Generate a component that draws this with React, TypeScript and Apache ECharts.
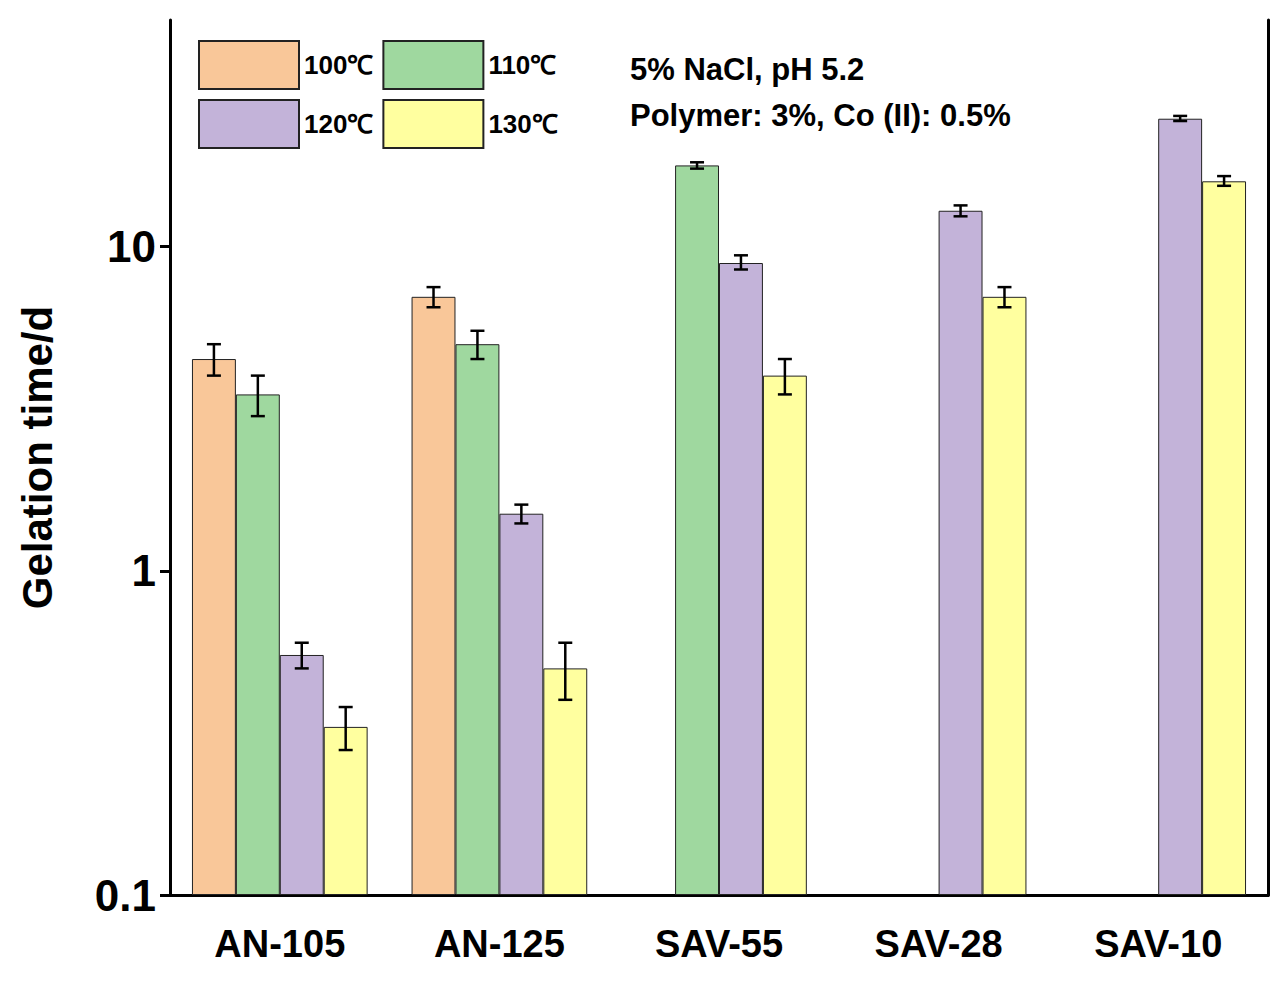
import React, { useEffect, useRef } from "react";
import * as echarts from "echarts";

const categories = ["AN-105", "AN-125", "SAV-55", "SAV-28", "SAV-10"];
const seriesNames = ["100℃", "110℃", "120℃", "130℃"];
const colors = ["#F9C799", "#9FD89F", "#C3B3D9", "#FFFF9F"];
const v100 = [4.5, 7.0, null, null, null];
const v110 = [3.5, 5.0, 17.8, null, null];
const v120 = [0.55, 1.5, 8.9, 12.9, 24.8];
const v130 = [0.33, 0.5, 4.0, 7.0, 15.9];
const lo100 = [4.0, 6.5, null, null, null];
const hi100 = [5.0, 7.5, null, null, null];
const lo110 = [3.0, 4.5, 17.4, null, null];
const hi110 = [4.0, 5.5, 18.2, null, null];
const lo120 = [0.5, 1.4, 8.5, 12.4, 24.4];
const hi120 = [0.6, 1.6, 9.4, 13.4, 25.3];
const lo130 = [0.28, 0.4, 3.5, 6.5, 15.4];
const hi130 = [0.38, 0.6, 4.5, 7.5, 16.5];
const yMin = 0.1;
const yMax = 50;

const values = [v100, v110, v120, v130];
const lows = [lo100, lo110, lo120, lo130];
const highs = [hi100, hi110, hi120, hi130];

// shifted log scale so bars grow from the axis minimum
const base = Math.log10(yMin);
const t = (v: number | null) => (v == null ? null : Math.log10(v) - base);

export default function App() {
  const ref = useRef<HTMLDivElement>(null);
  useEffect(() => {
    const chart = echarts.init(ref.current!, null, { renderer: "svg" });
    const font = "Arial, 'Liberation Sans', sans-serif";
    const bars: any[] = values.map((v, i) => ({
      name: seriesNames[i],
      type: "bar",
      data: v.map(t),
      barGap: "0%",
      barCategoryGap: "20%",
      itemStyle: { color: colors[i], borderColor: "#222", borderWidth: 1 },
    }));
    const errs: any[] = values.map((v, i) => ({
      type: "custom",
      name: "err" + i,
      z: 10,
      data: categories
        .map((c, k) => [k, t(lows[i][k]), t(highs[i][k])])
        .filter((d) => d[1] != null),
      renderItem: (params: any, api: any) => {
        const k = api.value(0);
        const bw = (api.size([1, 0])[0] * 0.8) / 4;
        const off = (i - 1.5) * bw;
        const p1 = api.coord([k, api.value(1)]);
        const p2 = api.coord([k, api.value(2)]);
        const x = p1[0] + off;
        const hw = 7;
        const st = { stroke: "#000", lineWidth: 2.5 };
        return {
          type: "group",
          children: [
            { type: "line", shape: { x1: x, y1: p1[1], x2: x, y2: p2[1] }, style: st },
            { type: "line", shape: { x1: x - hw, y1: p1[1], x2: x + hw, y2: p1[1] }, style: st },
            { type: "line", shape: { x1: x - hw, y1: p2[1], x2: x + hw, y2: p2[1] }, style: st },
          ],
        };
      },
    }));
    const yFmt = (val: number) => {
      const r = Math.pow(10, val + base);
      return String(Number(r.toPrecision(3)));
    };
    chart.setOption({
      animation: false,
      textStyle: { fontFamily: font },
      grid: { left: 170, right: 20, top: 20, bottom: 86 },
      legend: {
        data: seriesNames,
        left: 193,
        top: 35,
        width: 420,
        itemWidth: 100,
        itemHeight: 48,
        itemGap: 9,
        icon: "rect",
        textStyle: { fontSize: 26, fontWeight: "bold", color: "#000", width: 84, padding: [0, 0, 0, 0] },
      },
      xAxis: [
        {
          type: "category",
          data: categories,
          axisLine: { lineStyle: { color: "#000", width: 3 } },
          axisTick: { alignWithLabel: true, length: 10, lineStyle: { width: 3, color: "#000" } },
          axisLabel: { fontSize: 38, fontWeight: "bold", color: "#000", margin: 30 },
        },
        {
          type: "category",
          position: "top",
          data: categories,
          axisLine: { lineStyle: { color: "#000", width: 3 } },
          axisTick: { show: false },
          axisLabel: { show: false },
        },
      ],
      yAxis: [
        {
          type: "value",
          min: 0,
          max: Math.log10(yMax) - base,
          interval: 1,
          name: "Gelation time/d",
          nameLocation: "middle",
          nameGap: 112,
          nameTextStyle: { fontSize: 42, fontWeight: "bold", color: "#000" },
          axisLine: { show: true, lineStyle: { color: "#000", width: 3 } },
          axisTick: { show: true, length: 10, lineStyle: { width: 3, color: "#000" } },
          axisLabel: { fontSize: 44, fontWeight: "bold", color: "#000", margin: 14, formatter: yFmt, showMaxLabel: false },
          splitLine: { show: false },
        },
        {
          type: "value",
          min: 0,
          max: Math.log10(yMax) - base,
          position: "right",
          axisLine: { show: true, lineStyle: { color: "#000", width: 3 } },
          axisTick: { show: false },
          axisLabel: { show: false },
          splitLine: { show: false },
        },
      ],
      graphic: [
        { type: "text", left: 630, top: 54, style: { text: "5% NaCl, pH 5.2", font: `bold 31px ${font}`, fill: "#000" } },
        { type: "text", left: 630, top: 100, style: { text: "Polymer: 3%, Co (II): 0.5%", font: `bold 31px ${font}`, fill: "#000" } },
      ],
      series: [...bars, ...errs],
    });
    return () => chart.dispose();
  }, []);
  return <div ref={ref} style={{ position: "absolute", left: 0, top: 0, width: 1288, height: 981 }} />;
}
